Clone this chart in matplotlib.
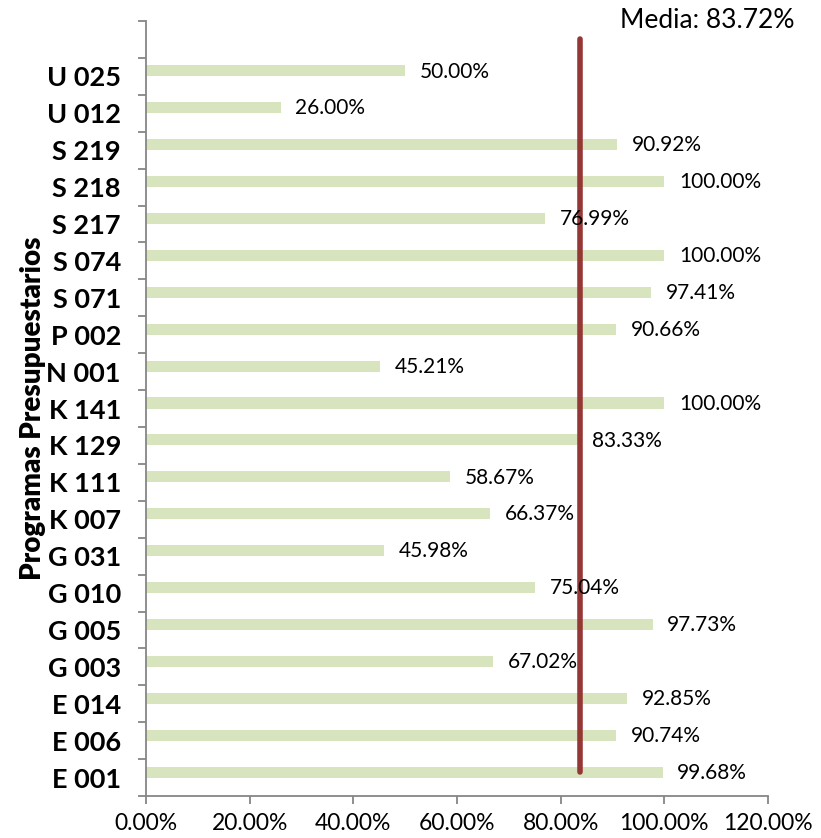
import numpy as np
import matplotlib.pyplot as plt
from matplotlib.ticker import FixedLocator

programas = ["E 001", "E 006", "E 014", "G 003", "G 005", "G 010", "G 031",
             "K 007", "K 111", "K 129", "K 141", "N 001", "P 002", "S 071",
             "S 074", "S 217", "S 218", "S 219", "U 012", "U 025"]
avance = [99.68, 90.74, 92.85, 67.02, 97.73, 75.04, 45.98,
          66.37, 58.67, 83.33, 100.00, 45.21, 90.66, 97.41,
          100.00, 76.99, 100.00, 90.92, 26.00, 50.00]
media = 83.72
xticks = [0, 20, 40, 60, 80, 100, 120]

plt.rcParams['font.family'] = ['Lato', 'DejaVu Sans']

fig = plt.figure(figsize=(8.21, 8.38), dpi=100)
ax = fig.add_axes([0.1778, 0.05, 0.7576, 0.925])

y = np.arange(len(programas))
ax.barh(y + 0.15, avance, height=0.3, color='#d7e4bd', zorder=2)

for yi, v in zip(y, avance):
    ax.text(v + 2.8, yi + 0.13, f"{v:.2f}%", va='center', ha='left',
            fontsize=15, color='black', zorder=4)

ax.plot([media, media], [0.15, 20.0], color='#953735', lw=4,
        solid_capstyle='round', zorder=3)
ax.text(0.968, 0.99, f"Media: {media:.2f}%", transform=fig.transFigure,
        ha='right', va='top', fontsize=19)

ax.set_xlim(0, 120)
ax.set_ylim(-0.5, 20.5)
ax.set_xticks(xticks)
ax.set_xticklabels([f"{t:.2f}%" for t in xticks], fontsize=16.5)
ax.set_yticks(y)
ax.set_yticklabels(programas, fontsize=19.5, fontweight='bold')
ax.yaxis.set_minor_locator(FixedLocator(np.arange(-0.5, 21, 1)))
ax.tick_params(axis='y', which='major', length=0, pad=18)
ax.tick_params(axis='y', which='minor', length=6, color='#868686', width=1.3)
ax.tick_params(axis='x', length=6, color='#868686', width=1.3, pad=6)
ax.set_ylabel("Programas Presupuestarios", fontsize=20, fontweight='heavy',
              labelpad=0)

for s in ['top', 'right']:
    ax.spines[s].set_visible(False)
for s in ['left', 'bottom']:
    ax.spines[s].set_color('#868686')
    ax.spines[s].set_linewidth(1.3)

fig.savefig('out.png', dpi=100)
